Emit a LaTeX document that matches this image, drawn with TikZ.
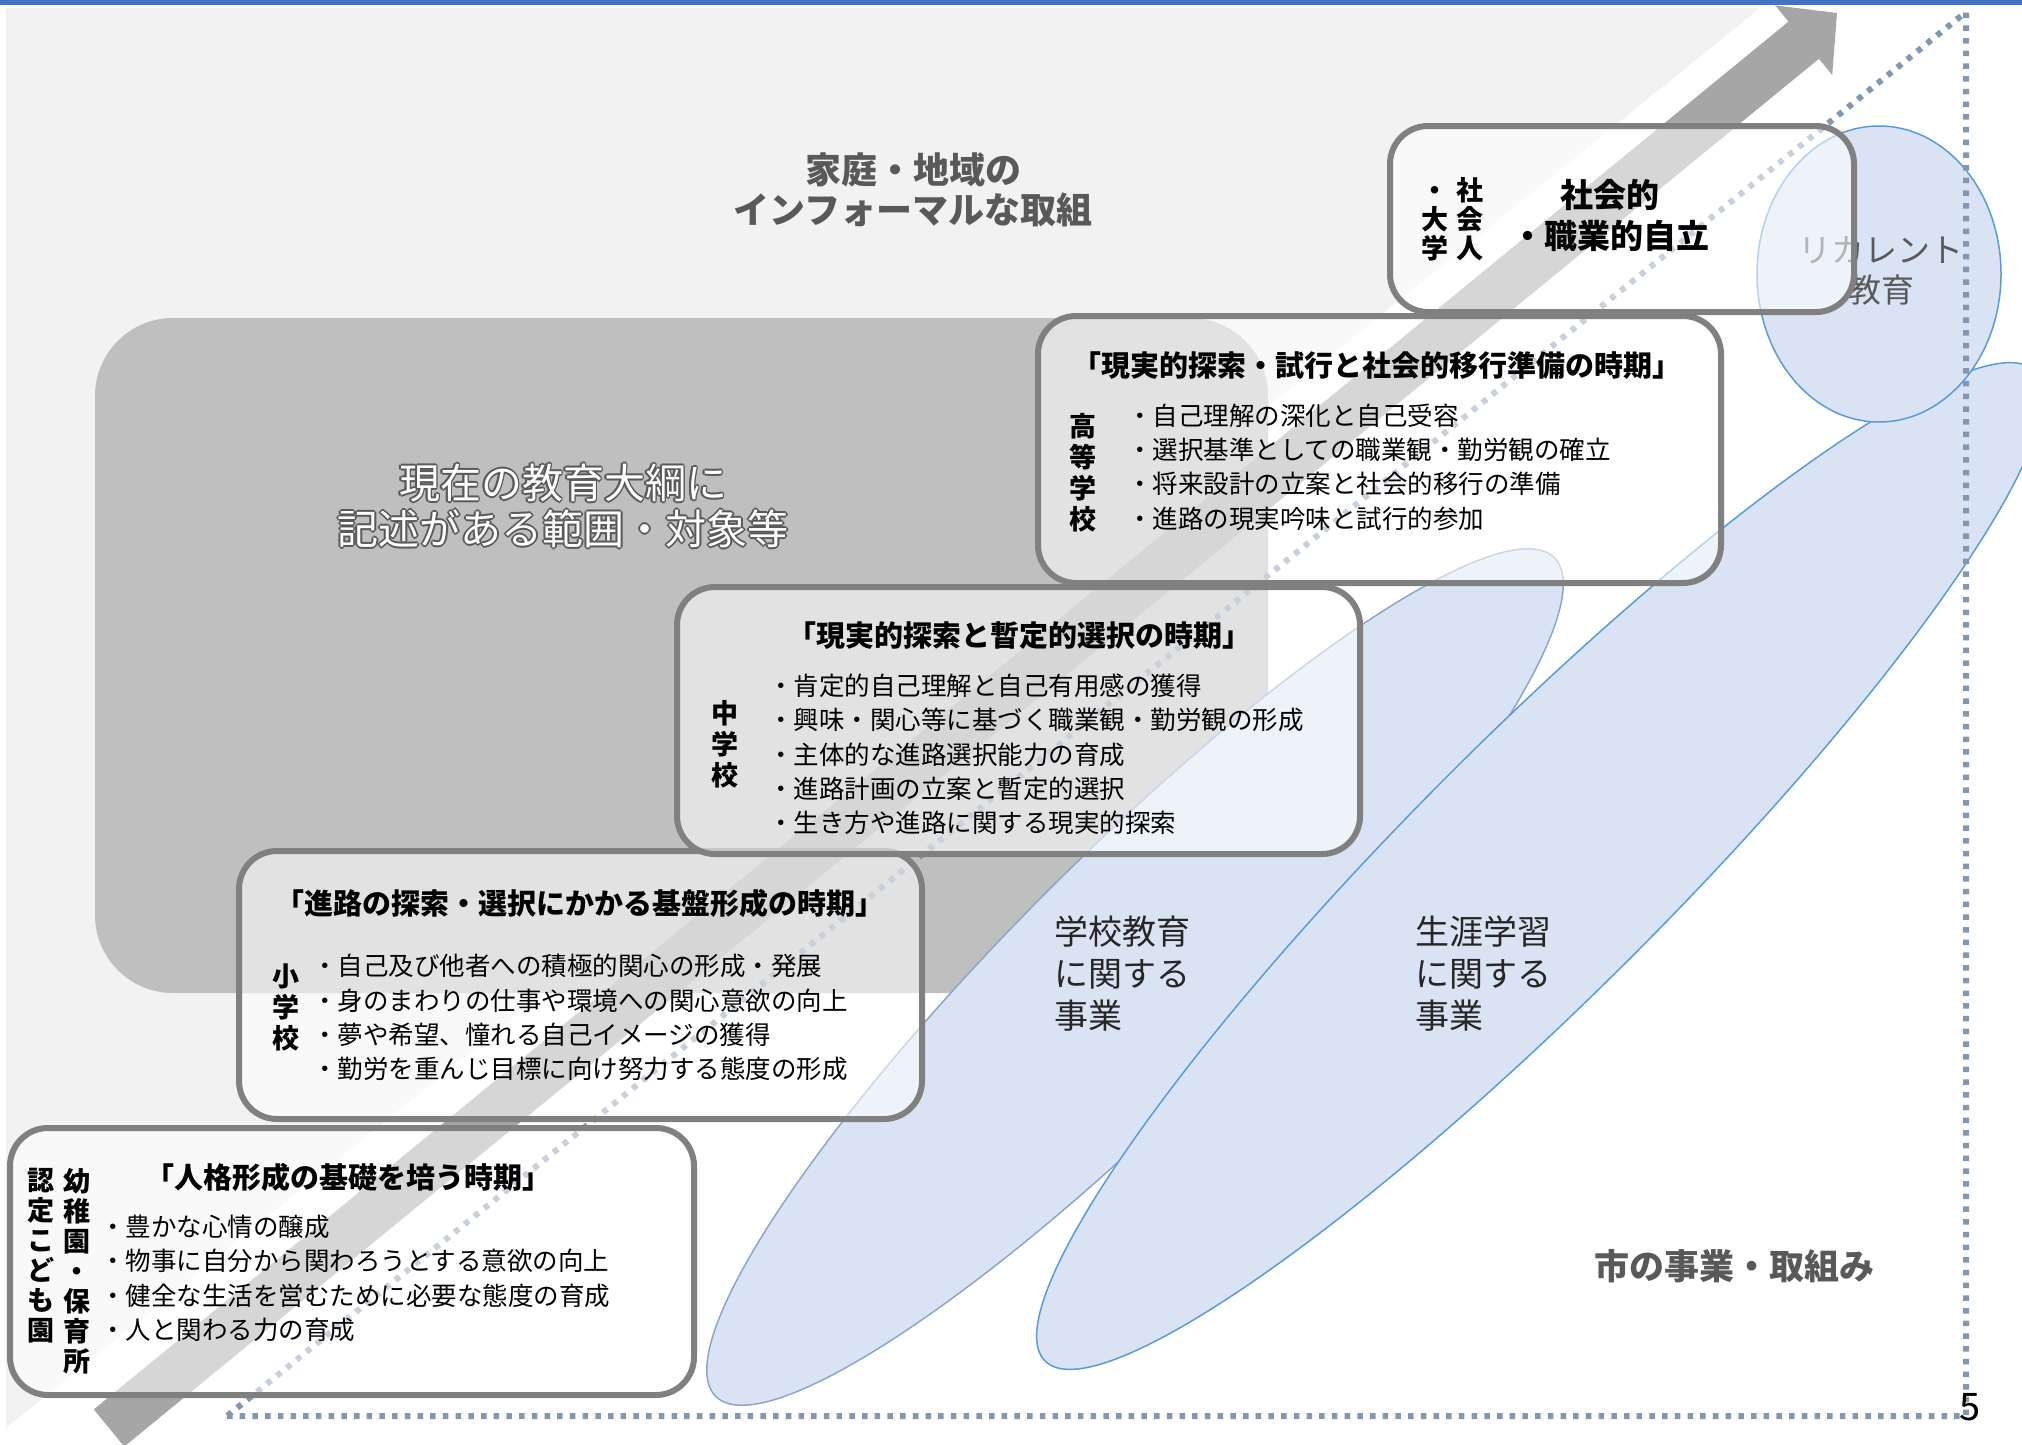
\documentclass[tikz,border=0pt]{standalone}
\usepackage{fontspec}
\setmainfont{Noto Sans CJK JP}
\usetikzlibrary{shapes.geometric}
\definecolor{barc}{HTML}{4472C4}
\definecolor{lgray}{HTML}{F2F2F2}
\definecolor{mgray}{HTML}{BFBFBF}
\definecolor{agray}{HTML}{A6A6A6}
\definecolor{bord}{HTML}{808080}
\definecolor{ellf}{HTML}{DAE3F3}
\definecolor{ellb}{HTML}{5B9BD5}
\definecolor{ellg}{HTML}{8FA5C8}
\definecolor{dotc}{HTML}{8497B0}
\definecolor{dtxt}{HTML}{595959}
\definecolor{etxt}{HTML}{262626}
\newcommand\outl[1]{\leavevmode
  \rlap{\color{dtxt}\kern-1.6pt#1}%
  \rlap{\color{dtxt}\kern1.6pt#1}%
  \rlap{\color{dtxt}\raisebox{1.6pt}{#1}}%
  \rlap{\color{dtxt}\raisebox{-1.6pt}{#1}}%
  \rlap{\color{dtxt}\kern-1.1pt\raisebox{1.1pt}{#1}}%
  \rlap{\color{dtxt}\kern1.1pt\raisebox{1.1pt}{#1}}%
  \rlap{\color{dtxt}\kern-1.1pt\raisebox{-1.1pt}{#1}}%
  \rlap{\color{dtxt}\kern1.1pt\raisebox{-1.1pt}{#1}}%
  {\color{white}#1}}
\begin{document}
\begin{tikzpicture}[x=1pt,y=-1pt,
  box/.style={draw=bord, line width=6, rounded corners=38, fill=white, fill opacity=0.55, inner sep=0},
  ttl/.style={font=\bfseries\fontsize{29}{34}\selectfont, inner sep=0},
  items/.style={font=\fontsize{25.5}{34.3}\selectfont, align=left, anchor=west, inner sep=0},
  vlab/.style={font=\bfseries\fontsize{27}{31}\selectfont, align=center, inner sep=0},
  blob/.style={ellipse, fill=ellf, draw=ellb, line width=1.5, inner sep=0},
  etx/.style={font=\fontsize{34}{42}\selectfont, align=left, anchor=west, inner sep=0, text=etxt},
  dots/.style={draw=dotc, line width=6, dash pattern=on 5.5 off 7.2}
]
\useasboundingbox (0,0) rectangle (2022,1445);
\fill[white] (0,0) rectangle (2022,1445);
% light gray informal area
\fill[lgray] (6,8) -- (1760,8) -- (6,1428) -- cycle;
% top bar
\fill[barc] (0,0) rectangle (2022,5);
% big gray rounded region
\fill[mgray, rounded corners=78] (95,318) rectangle (1268,993);
\node[font=\fontsize{41}{46}\selectfont, align=center, inner sep=0] (taiko) at (563,506)
  {\outl{現在の教育大綱に}\\\outl{記述がある範囲・対象等}};
\node[font=\bfseries\fontsize{36}{40}\selectfont, align=center, inner sep=0, text=dtxt] (katei) at (913,190)
  {家庭・地域の\\インフォーマルな取組};
\node[font=\bfseries\fontsize{35}{40}\selectfont, inner sep=0, text=dtxt] (shi) at (1734,1266) {市の事業・取組み};
% blue areas
\node[blob, draw=ellg, minimum width=1186, minimum height=245, rotate=45] (e1) at (1135,977) {};
\node[blob, minimum width=1400, minimum height=258, rotate=45] (e2) at (1540,866) {};
\node[blob, minimum width=244, minimum height=296] (e3) at (1879,274) {};
\node[etx] (t1) at (1054,974) {学校教育\\に関する\\事業};
\node[etx] (t2) at (1415,974) {生涯学習\\に関する\\事業};
\node[font=\fontsize{33}{40}\selectfont, align=center, inner sep=0, text=dtxt] (t3) at (1881,271) {リカレント\\教育};
% dotted triangle
\draw[dots] (227,1416) -- (1966,1416) -- (1966,12) -- cycle;
% arrow
\fill[agray] (93.8,1409.4) -- (1788.5,21.6) -- (1775.2,5.4) -- (1837,13) -- (1832.2,75) -- (1818.9,58.8) -- (124.2,1446.6) -- cycle;
% boxes
\node[box, minimum width=684, minimum height=267] (b5) at (352,1261.5) {};
\node[box, minimum width=683, minimum height=268] (b4) at (580.5,985) {};
\node[box, minimum width=683, minimum height=267] (b3) at (1018.5,720.5) {};
\node[box, minimum width=683, minimum height=267] (b2) at (1379.5,449.5) {};
\node[box, minimum width=464, minimum height=186] (b1) at (1622,219) {};
% box 1 text
\node[vlab, font=\bfseries\fontsize{27}{29}\selectfont, anchor=north] (v1a) at (1435,177) {\vphantom{社}・\\大\\学};
\node[vlab, font=\bfseries\fontsize{27}{29}\selectfont, anchor=north] (v1b) at (1470,177) {社\\会\\人};
\node[font=\bfseries\fontsize{33}{41}\selectfont, align=center, inner sep=0] (s1) at (1610,216) {社会的\\・職業的自立};
% box 2
\node[ttl] (h2) at (1377,366) {「現実的探索・試行と社会的移行準備の時期」};
\node[vlab] (v2) at (1083,473) {高\\等\\学\\校};
\node[items] (i2) at (1127,467) {・自己理解の深化と自己受容\\・選択基準としての職業観・勤労観の確立\\・将来設計の立案と社会的移行の準備\\・進路の現実吟味と試行的参加};
% box 3
\node[ttl] (h3) at (1019,636) {「現実的探索と暫定的選択の時期」};
\node[vlab] (v3) at (725,744) {中\\学\\校};
\node[items] (i3) at (768,754.5) {・肯定的自己理解と自己有用感の獲得\\・興味・関心等に基づく職業観・勤労観の形成\\・主体的な進路選択能力の育成\\・進路計画の立案と暫定的選択\\・生き方や進路に関する現実的探索};
% box 4
\node[ttl] (h4) at (580,903) {「進路の探索・選択にかかる基盤形成の時期」};
\node[vlab] (v4) at (286,1007) {小\\学\\校};
\node[items] (i4) at (312,1017.5) {・自己及び他者への積極的関心の形成・発展\\・身のまわりの仕事や環境への関心意欲の向上\\・夢や希望、憧れる自己イメージの獲得\\・勤労を重んじ目標に向け努力する態度の形成};
% box 5
\node[ttl] (h5) at (348,1177) {「人格形成の基礎を培う時期」};
\node[vlab, font=\bfseries\fontsize{27}{30}\selectfont, anchor=north] (v5a) at (77,1168) {幼\\稚\\園\\・\\保\\育\\所};
\node[vlab, font=\bfseries\fontsize{27}{30}\selectfont, anchor=north] (v5b) at (41,1168) {認\\定\\こ\\ど\\も\\園};
\node[items] (i5) at (100,1278.5) {・豊かな心情の醸成\\・物事に自分から関わろうとする意欲の向上\\・健全な生活を営むために必要な態度の育成\\・人と関わる力の育成};
% page number
\node[font=\fontsize{38}{38}\selectfont, inner sep=0] (pg) at (1970,1407) {5};
\end{tikzpicture}
\end{document}
